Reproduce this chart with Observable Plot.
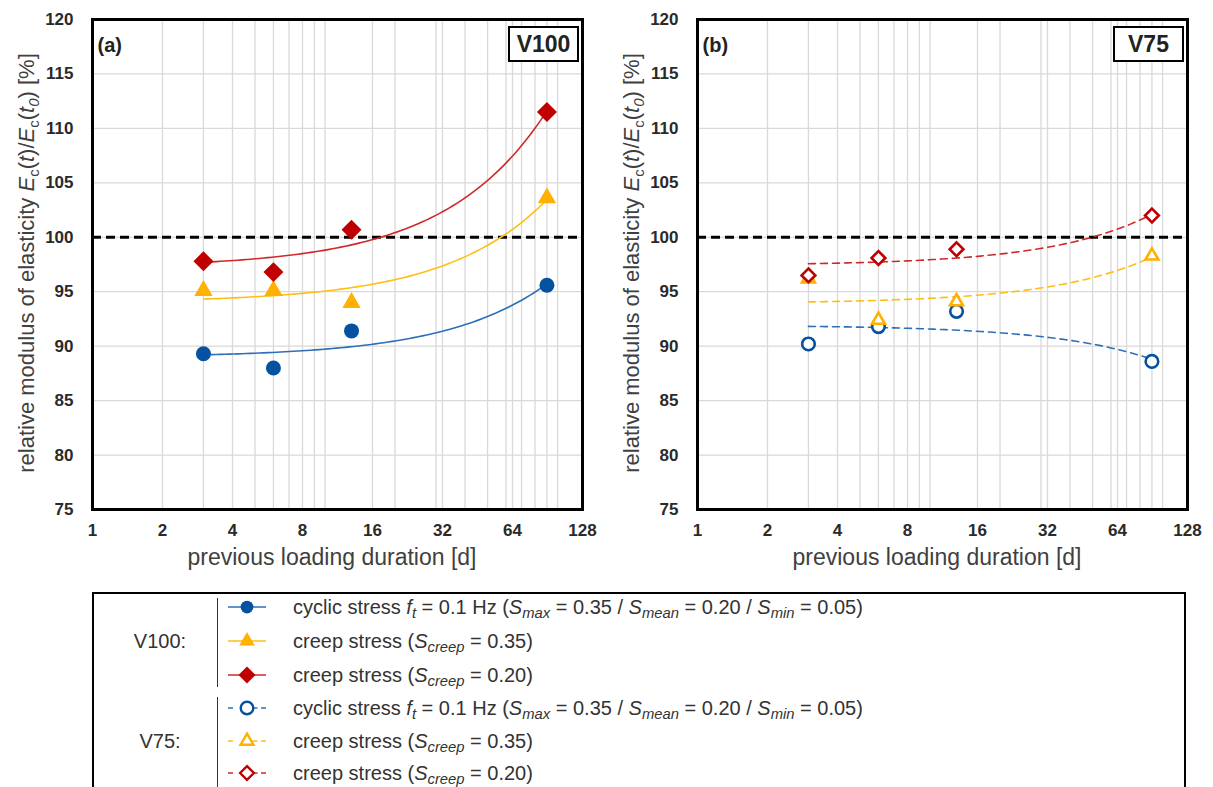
<!DOCTYPE html>
<html><head><meta charset="utf-8">
<script src="https://cdn.jsdelivr.net/npm/d3@7"></script>
<script src="https://cdn.jsdelivr.net/npm/@observablehq/plot@0.6"></script>
<style>
body{margin:0;background:#fff;font-family:"Liberation Sans",Arial,sans-serif;}
#wrap{position:relative;width:1213px;height:787px;overflow:hidden;background:#fff;}
.panel{position:absolute;top:0;}
.tag{position:absolute;top:26px;width:71px;height:36px;box-sizing:border-box;border:2.5px solid #000;font-weight:bold;font-size:23px;display:flex;align-items:center;justify-content:center;color:#222;background:#fff;}
#legend{position:absolute;left:92px;top:592px;width:1094px;height:230px;box-sizing:border-box;border:2px solid #000;background:#fff;}
.grp{position:absolute;width:80px;text-align:center;font-size:20px;color:#333;transform:translateY(-50%);}
.bar{position:absolute;width:0;border-left:1.5px solid #333;}
.sym{position:absolute;}
.lab{position:absolute;font-size:20px;color:#333;white-space:nowrap;transform:translateY(-50%);line-height:22px;}
.lab sub{font-size:0.74em;vertical-align:-0.3em;line-height:0;}
</style>
</head><body>
<div id="wrap">
  <div id="pa" class="panel" style="left:0"></div>
  <div id="pb" class="panel" style="left:605px"></div>
  <div class="tag" style="left:508px">V100</div>
  <div class="tag" style="left:1113px">V75</div>
  <div id="legend"></div>
</div>
<script>
// ---- data ----
const days = [3, 6, 13, 90];
const v100Cyclic  = [89.3, 88.0, 91.4, 95.6];
const v100Creep35 = [95.1, 95.1, 94.0, 103.6];
const v100Creep20 = [97.8, 96.8, 100.7, 111.5];
const v75Cyclic   = [90.2, 91.8, 93.2, 88.6];
const v75Creep35  = [96.2, 92.4, 94.1, 98.3];
const v75Creep20  = [96.5, 98.1, 98.9, 102.0];
const xTicks = [1, 2, 4, 8, 16, 32, 64, 128];
const yTicks = [75, 80, 85, 90, 95, 100, 105, 110, 115, 120];
const xGrid = [2, 3, 4, 5, 6, 7, 8, 9, 10, 16, 20, 30, 32, 40, 50, 60, 64, 70, 80, 90, 100];
const yGrid = [80, 85, 90, 95, 100, 105, 110, 115];
const refLevel = [100];
const markerColors = ["#0552A0", "#FFB000", "#C00000"];
const lineColors = ["#2E6FB8", "#FFBE10", "#D02828"];
const symbols = ["circle", "triangle", "diamond2"];
const filledR = [7.5, 6.8, 9];
const openR = [6.3, 4.8, 6.2];
const groupNames = ["V100:", "V75:"];
const legendLabels = [
  'cyclic stress <i>f<sub>t</sub></i> = 0.1 Hz (<i>S<sub>max</sub></i> = 0.35 / <i>S<sub>mean</sub></i> = 0.20 / <i>S<sub>min</sub></i> = 0.05)',
  'creep stress (<i>S<sub>creep</sub></i> = 0.35)',
  'creep stress (<i>S<sub>creep</sub></i> = 0.20)'
];

// least-squares linear trend (as in the original spreadsheet trendlines)
function linFit(xs, ys) {
  const n = xs.length, mx = d3.mean(xs), my = d3.mean(ys);
  let sxy = 0, sxx = 0;
  for (let i = 0; i < n; i++) { sxy += (xs[i]-mx)*(ys[i]-my); sxx += (xs[i]-mx)**2; }
  const b = sxy/sxx; return {a: my - b*mx, b};
}

function panel(series, open, letter) {
  const marks = [
    Plot.ruleX(xGrid, {stroke: "#d9d9d9", strokeWidth: 1.3}),
    Plot.ruleY(yGrid, {stroke: "#d9d9d9", strokeWidth: 1.3}),
    Plot.ruleY(refLevel, {stroke: "#000", strokeWidth: 3, strokeDasharray: "9,5"})
  ];
  series.forEach((vals, k) => {
    const {a, b} = linFit(days, vals);
    const x0 = days[0], x1 = days[days.length-1];
    const fit = d3.range(81).map(j => { const d = x0*Math.pow(x1/x0, j/80); return {d, v: a + b*d}; });
    marks.push(Plot.line(fit, {x: "d", y: "v", stroke: lineColors[k], strokeWidth: 1.6,
      strokeDasharray: open ? "7,5" : null}));
  });
  series.forEach((vals, k) => {
    const pts = vals.map((v, i) => ({d: days[i], v}));
    marks.push(Plot.dot(pts, {x: "d", y: "v", symbol: symbols[k],
      r: open ? openR[k] : filledR[k],
      fill: open ? "white" : markerColors[k],
      stroke: open ? markerColors[k] : "none",
      strokeWidth: open ? 2.6 : 0}));
  });
  marks.push(
    Plot.frame({stroke: "#000", strokeWidth: 3}),
    Plot.axisX(xTicks, {tickSize: 0, tickPadding: 14, fontWeight: "bold", fontSize: 17, fill: "#2a2a2a",
      tickFormat: d => String(d), label: null}),
    Plot.axisY(yTicks, {tickSize: 0, tickPadding: 19, fontWeight: "bold", fontSize: 17, fill: "#2a2a2a", label: null}),
    Plot.text([letter], {frameAnchor: "top-left", dx: 5, dy: 18, fontWeight: "bold", fontSize: 20, fill: "#222"})
  );
  const svg = Plot.plot({
    width: 605, height: 580,
    marginLeft: 92, marginRight: 23, marginTop: 19, marginBottom: 71,
    style: {fontFamily: "Liberation Sans, Arial, sans-serif", background: "transparent"},
    x: {type: "log", base: 2, domain: [1, 128], label: null},
    y: {domain: [75, 120], label: null},
    marks
  });
  const s = d3.select(svg);
  s.append("text").attr("x", 332).attr("y", 565).attr("text-anchor", "middle")
    .attr("font-size", 23).attr("fill", "#404040").text("previous loading duration [d]");
  const t = s.append("text").attr("transform", "translate(26,263) rotate(-90)")
    .attr("y", 8).attr("text-anchor", "middle").attr("font-size", 22).attr("fill", "#404040");
  const parts = [
    ["relative modulus of elasticity ", 0, false],
    ["E", 0, true], ["c", 1, false], ["(", -1, false], ["t", 0, true], [")/", 0, false],
    ["E", 0, true], ["c", 1, false], ["(", -1, false], ["t", 0, true], ["0", 1, true], [")", -1, false], [" [%]", 0, false]
  ];
  parts.forEach(([str, shift, it]) => {
    const sp = t.append("tspan").text(str);
    if (it) sp.attr("font-style", "italic");
    if (shift === 1) sp.attr("dy", 5).attr("font-size", 15);
    if (shift === -1) sp.attr("dy", -5);
  });
  return svg;
}

document.getElementById("pa").appendChild(panel([v100Cyclic, v100Creep35, v100Creep20], false, "(a)"));
document.getElementById("pb").appendChild(panel([v75Cyclic, v75Creep35, v75Creep20], true, "(b)"));

// ---- legend ----
const leg = document.getElementById("legend");
const rowY = [13, 47, 81, 114, 147, 179];
const groupY = [47, 147];
const barSpan = [[4, 93], [103, 195]];
groupNames.forEach((g, gi) => {
  const el = document.createElement("div"); el.className = "grp";
  el.style.left = "26px"; el.style.top = groupY[gi] + "px"; el.textContent = g; leg.appendChild(el);
  const b = document.createElement("div"); b.className = "bar";
  b.style.left = "123px"; b.style.top = barSpan[gi][0] + "px"; b.style.height = (barSpan[gi][1]-barSpan[gi][0]) + "px";
  leg.appendChild(b);
  legendLabels.forEach((lab, k) => {
    const y = rowY[gi*3 + k];
    const open = gi === 1;
    const sym = d3.create("svg").attr("width", 44).attr("height", 22).attr("class", "sym")
      .style("left", "131px").style("top", (y - 11) + "px");
    sym.append("line").attr("x1", 3).attr("x2", 41).attr("y1", 11).attr("y2", 11)
      .attr("stroke", lineColors[k]).attr("stroke-width", 1.6)
      .attr("stroke-dasharray", open ? "5,3.5,0,16,5,3.5" : null);
    const typ = {circle: d3.symbolCircle, triangle: d3.symbolTriangle, diamond2: d3.symbolDiamond2}[symbols[k]];
    const r = open ? openR[k] : filledR[k] * 0.85;
    sym.append("path").attr("transform", "translate(22,11)")
      .attr("d", d3.symbol(typ, Math.PI * r * r)())
      .attr("fill", open ? "white" : markerColors[k])
      .attr("stroke", open ? markerColors[k] : "none").attr("stroke-width", open ? 2.4 : 0);
    leg.appendChild(sym.node());
    const tx = document.createElement("div"); tx.className = "lab";
    tx.style.left = "199px"; tx.style.top = y + "px"; tx.innerHTML = lab; leg.appendChild(tx);
  });
});
</script>
</body></html>
